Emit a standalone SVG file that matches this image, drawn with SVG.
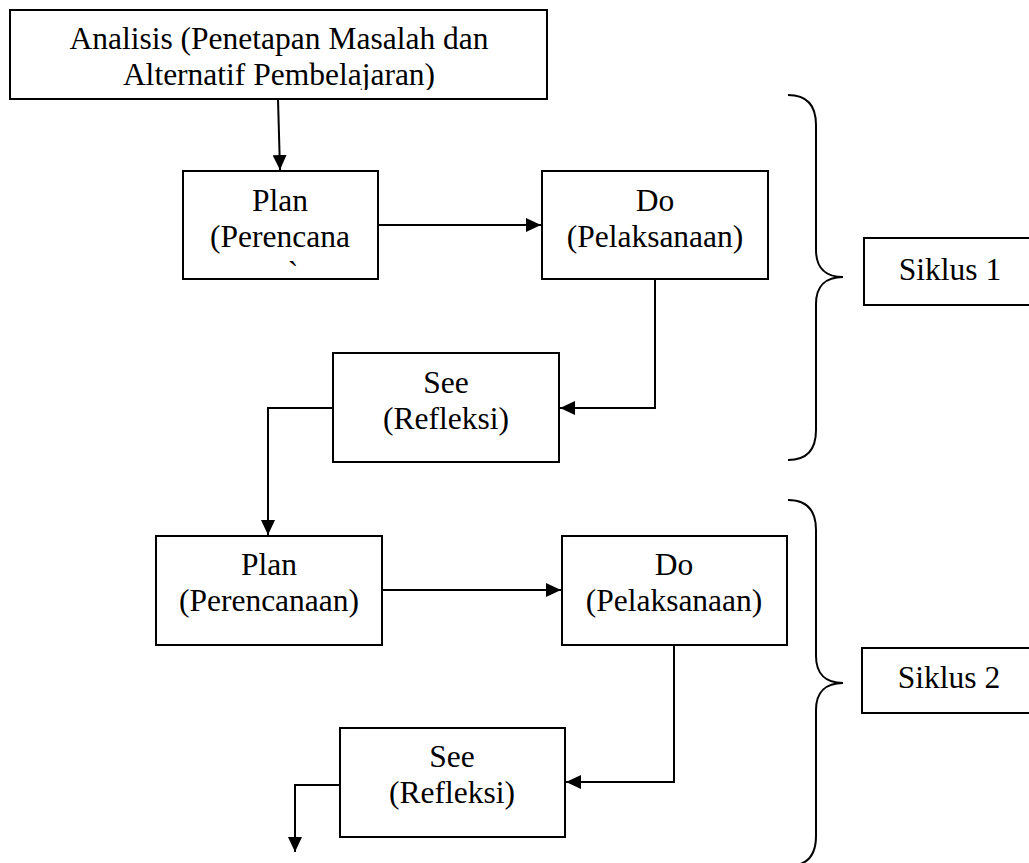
<svg xmlns="http://www.w3.org/2000/svg" width="1029" height="863" viewBox="0 0 1029 863">
<style>
.box{fill:#fff;stroke:#000;stroke-width:2}
.t{font-family:"Liberation Serif","Times New Roman",serif;font-size:31.5px;fill:#000;text-anchor:middle}
.ln{fill:none;stroke:#000;stroke-width:2}
.br{fill:none;stroke:#000;stroke-width:2}
</style>
<defs>
<marker id="ah" markerUnits="userSpaceOnUse" markerWidth="16" markerHeight="14" refX="15" refY="7" orient="auto">
<path d="M0,0 L15,7 L0,14 z" fill="#000"/>
</marker>
<clipPath id="clipTop"><rect x="10" y="10" width="537" height="80"/></clipPath>
</defs>
<rect width="1029" height="863" fill="#fff"/>

<g id="analisis">
<rect class="box" x="10" y="10" width="537" height="89"/>
<g clip-path="url(#clipTop)">
<text class="t" x="279" y="49">Analisis (Penetapan Masalah dan</text>
<text class="t" x="279" y="85">Alternatif Pembelajaran)</text>
</g>
</g>

<g id="plan1">
<rect class="box" x="183" y="171" width="195" height="108"/>
<text class="t" x="280" y="211">Plan</text>
<text class="t" x="280" y="247">(Perencana</text>
<text class="t" x="293" y="283">`</text>
</g>

<g id="do1">
<rect class="box" x="542" y="171" width="226" height="108"/>
<text class="t" x="655" y="211">Do</text>
<text class="t" x="655" y="247">(Pelaksanaan)</text>
</g>

<g id="see1">
<rect class="box" x="333" y="353" width="226" height="109"/>
<text class="t" x="446" y="393">See</text>
<text class="t" x="446" y="429">(Refleksi)</text>
</g>

<g id="plan2">
<rect class="box" x="156" y="536" width="226" height="109"/>
<text class="t" x="269" y="575">Plan</text>
<text class="t" x="269" y="611">(Perencanaan)</text>
</g>

<g id="do2">
<rect class="box" x="562" y="536" width="225" height="109"/>
<text class="t" x="674" y="575">Do</text>
<text class="t" x="674" y="611">(Pelaksanaan)</text>
</g>

<g id="see2">
<rect class="box" x="340" y="728" width="225" height="109"/>
<text class="t" x="452" y="767">See</text>
<text class="t" x="452" y="803">(Refleksi)</text>
</g>

<g id="siklus1">
<path class="br" d="M788,95 C806,95 816,105 816,125 V250 C816,268 826,277 843,277 C826,277 816,286 816,304 V430 C816,450 806,460 788,460"/>
<rect class="box" x="864" y="238" width="200" height="67"/>
<text class="t" x="950" y="280">Siklus 1</text>
</g>

<g id="siklus2">
<path class="br" d="M788,500 C806,500 816,510 816,530 V656 C816,674 826,683 843,683 C826,683 816,692 816,710 V836 C816,856 806,866 788,866"/>
<rect class="box" x="862" y="648" width="200" height="65"/>
<text class="t" x="949" y="688">Siklus 2</text>
</g>

<g id="connectors">
<path class="ln" d="M278,99 L280,170" marker-end="url(#ah)"/>
<path class="ln" d="M378,225 H541" marker-end="url(#ah)"/>
<path class="ln" d="M655,279 V408 H560" marker-end="url(#ah)"/>
<path class="ln" d="M333,408 H268 V535" marker-end="url(#ah)"/>
<path class="ln" d="M382,590 H561" marker-end="url(#ah)"/>
<path class="ln" d="M674,645 V782 H566" marker-end="url(#ah)"/>
<path class="ln" d="M340,785 H295 V852" marker-end="url(#ah)"/>
</g>
</svg>
